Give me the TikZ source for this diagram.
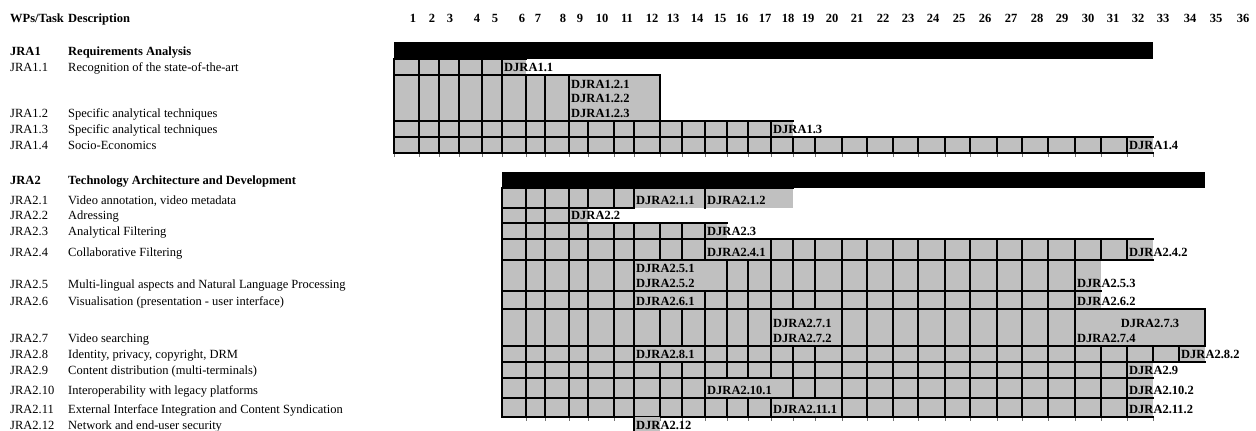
\documentclass[tikz,border=0pt]{standalone}
\usepackage{fontspec}
\setmainfont{Liberation Serif}
\definecolor{cellgrey}{HTML}{C0C0C0}

\def\colx{{0,394,419,439,459,482,502,526,545,569,588,614,634,660,682,705,727,748,771,793,815,842,867,893,918,945,970,997,1022,1048,1075,1101,1127,1153,1179,1205,1231,1257}}

% y top, y bottom, first col, last grey col, last col with bottom rule, cols with a left rule
\newcommand\taskrow[6]{%
  \pgfmathsetmacro\xa{\colx[#3]}%
  \pgfmathsetmacro\xb{\colx[#4+1]}%
  \pgfmathsetmacro\xc{\colx[#5+1]}%
  \fill[cellfill] (\xa,#1) rectangle (\xb,#2);
  \draw[rule] (\xa,#1) -- (\xb,#1) (\xa,#2) -- (\xc,#2);
  \foreach \c in {#6}{\pgfmathsetmacro\xv{\colx[\c]}\draw[rule] (\xv,#1) -- (\xv,#2);}}

% node name, col, baseline, text
\newcommand\dlv[4]{%
  \pgfmathsetmacro\xd{\colx[#2]+2}%
  \node[dlvtext] (#1) at (\xd,#3) {#4};}

\begin{document}
\begin{tikzpicture}[x=1pt, y=-1pt,
  font=\fontsize{12.5}{15}\selectfont,
  lbl/.style={anchor=base west, inner sep=0pt},
  wp/.style={lbl, font=\fontsize{12.5}{15}\selectfont\bfseries},
  dlvtext/.style={anchor=base west, inner sep=0pt, font=\fontsize{12.5}{15}\selectfont\bfseries},
  mon/.style={anchor=base, inner sep=0pt, font=\fontsize{12.5}{15}\selectfont\bfseries},
  cellfill/.style={fill=cellgrey},
  rule/.style={draw=black, line width=2.1pt, line cap=rect},
  tick/.style={draw=black!55, line width=0.7pt},
  bar/.style={fill=black}
]
\useasboundingbox (0,0) rectangle (1256,431);

\node[wp] (hdrwp) at (10,22.5) {WPs/Task};
\node[wp] (hdrdesc) at (68,22.5) {Description};
\foreach \m/\x in {1/413,2/432,3/450,4/477,5/495,6/522,7/538,8/563,9/580,10/602,11/627,12/652,13/673,14/697,15/720,16/742,17/765,18/788,19/808,20/832,21/857,22/883,23/908,24/933,25/959,26/985,27/1011,28/1037,29/1062,30/1088,31/1113,32/1138,33/1163,34/1190,35/1216,36/1243}
  \node[mon] (m\m) at (\x,22.5) {\m};

% JRA1
\fill[bar] (394,42) rectangle (1153,59);
\taskrow{59}{75}{1}{6}{6}{1,...,6}
\taskrow{75}{121}{1}{12}{12}{1,...,9,13}
\taskrow{121}{137}{1}{18}{18}{1,...,18}
\taskrow{137}{153}{1}{32}{32}{1,...,32}
\foreach \c in {1,...,33}{\pgfmathsetmacro\xv{\colx[\c]}\draw[tick] (\xv,154) -- (\xv,157);}

\node[wp] (jra1) at (10,55.5) {JRA1};
\node[wp] (jra1d) at (68,55.5) {Requirements Analysis};
\node[lbl] (jra11) at (10,71.5) {JRA1.1};
\node[lbl] (jra11d) at (68,71.5) {Recognition of the state-of-the-art};
\node[lbl] (jra12) at (10,117.5) {JRA1.2};
\node[lbl] (jra12d) at (68,117.5) {Specific analytical techniques};
\node[lbl] (jra13) at (10,133.5) {JRA1.3};
\node[lbl] (jra13d) at (68,133.5) {Specific analytical techniques};
\node[lbl] (jra14) at (10,149.5) {JRA1.4};
\node[lbl] (jra14d) at (68,149.5) {Socio-Economics};

\dlv{djra11}{6}{71.5}{DJRA1.1}
\dlv{djra121}{9}{88}{DJRA1.2.1}
\dlv{djra122}{9}{102.5}{DJRA1.2.2}
\dlv{djra123}{9}{117.5}{DJRA1.2.3}
\dlv{djra13}{18}{133.5}{DJRA1.3}
\dlv{djra14}{32}{149.5}{DJRA1.4}

% JRA2
\fill[bar] (502,172) rectangle (1205,188);
\taskrow{188}{208}{6}{18}{11}{6,...,12,15}
\taskrow{208}{223}{6}{9}{9}{6,...,9}
\taskrow{223}{239}{6}{15}{15}{6,...,15}
\taskrow{239}{260}{6}{32}{32}{6,...,15,18,19,...,32}
\taskrow{260}{291}{6}{30}{30}{6,...,12,16,17,...,30}
\taskrow{291}{309}{6}{30}{30}{6,...,12,15,16,...,30}
\taskrow{309}{346}{6}{34}{34}{6,...,18,21,22,...,30,35}
\taskrow{346}{362}{6}{34}{34}{6,...,12,15,16,...,34}
\taskrow{362}{378}{6}{32}{32}{6,...,32}
\taskrow{378}{398}{6}{32}{32}{6,...,15,19,20,...,32}
\taskrow{398}{417}{6}{32}{32}{6,...,18,21,22,...,32}
\fill[cellfill] (634,417) rectangle (660,431);
\draw[rule] (634,417) -- (634,431);
\foreach \c in {7,...,11,13,14,...,33}{\pgfmathsetmacro\xv{\colx[\c]}\draw[tick] (\xv,418) -- (\xv,421);}

\node[wp] (jra2) at (10,184) {JRA2};
\node[wp] (jra2d) at (68,184) {Technology Architecture and Development};
\node[lbl] (jra21) at (10,204.5) {JRA2.1};
\node[lbl] (jra21d) at (68,204.5) {Video annotation, video metadata};
\node[lbl] (jra22) at (10,219.5) {JRA2.2};
\node[lbl] (jra22d) at (68,219.5) {Adressing};
\node[lbl] (jra23) at (10,235.5) {JRA2.3};
\node[lbl] (jra23d) at (68,235.5) {Analytical Filtering};
\node[lbl] (jra24) at (10,256.5) {JRA2.4};
\node[lbl] (jra24d) at (68,256.5) {Collaborative Filtering};
\node[lbl] (jra25) at (10,288) {JRA2.5};
\node[lbl] (jra25d) at (68,288) {Multi-lingual aspects and Natural Language Processing};
\node[lbl] (jra26) at (10,305.5) {JRA2.6};
\node[lbl] (jra26d) at (68,305.5) {Visualisation (presentation - user interface)};
\node[lbl] (jra27) at (10,342.5) {JRA2.7};
\node[lbl] (jra27d) at (68,342.5) {Video searching};
\node[lbl] (jra28) at (10,358.5) {JRA2.8};
\node[lbl] (jra28d) at (68,358.5) {Identity, privacy, copyright, DRM};
\node[lbl] (jra29) at (10,374.5) {JRA2.9};
\node[lbl] (jra29d) at (68,374.5) {Content distribution (multi-terminals)};
\node[lbl] (jra210) at (10,394.5) {JRA2.10};
\node[lbl] (jra210d) at (68,394.5) {Interoperability with legacy platforms};
\node[lbl] (jra211) at (10,413.5) {JRA2.11};
\node[lbl] (jra211d) at (68,413.5) {External Interface Integration and Content Syndication};
\node[lbl] (jra212) at (10,429.5) {JRA2.12};
\node[lbl] (jra212d) at (68,429.5) {Network and end-user security};

\dlv{djra211}{12}{204.5}{DJRA2.1.1}
\dlv{djra212}{15}{204.5}{DJRA2.1.2}
\dlv{djra22}{9}{219.5}{DJRA2.2}
\dlv{djra23}{15}{235.5}{DJRA2.3}
\dlv{djra241}{15}{256.5}{DJRA2.4.1}
\dlv{djra242}{32}{256.5}{DJRA2.4.2}
\dlv{djra251}{12}{272.5}{DJRA2.5.1}
\dlv{djra252}{12}{287.5}{DJRA2.5.2}
\dlv{djra253}{30}{287.5}{DJRA2.5.3}
\dlv{djra261}{12}{305.5}{DJRA2.6.1}
\dlv{djra262}{30}{305.5}{DJRA2.6.2}
\dlv{djra271}{18}{327}{DJRA2.7.1}
\dlv{djra272}{18}{342.5}{DJRA2.7.2}
\node[dlvtext, anchor=base] (djra273) at (1150,327) {DJRA2.7.3};
\dlv{djra274}{30}{342.5}{DJRA2.7.4}
\dlv{djra281}{12}{358.5}{DJRA2.8.1}
\dlv{djra282}{34}{358.5}{DJRA2.8.2}
\dlv{djra29}{32}{374.5}{DJRA2.9}
\dlv{djra2101}{15}{394.5}{DJRA2.10.1}
\dlv{djra2102}{32}{394.5}{DJRA2.10.2}
\dlv{djra2111}{18}{413.5}{DJRA2.11.1}
\dlv{djra2112}{32}{413.5}{DJRA2.11.2}
\dlv{djra212}{12}{429.5}{DJRA2.12}
\end{tikzpicture}
\end{document}
